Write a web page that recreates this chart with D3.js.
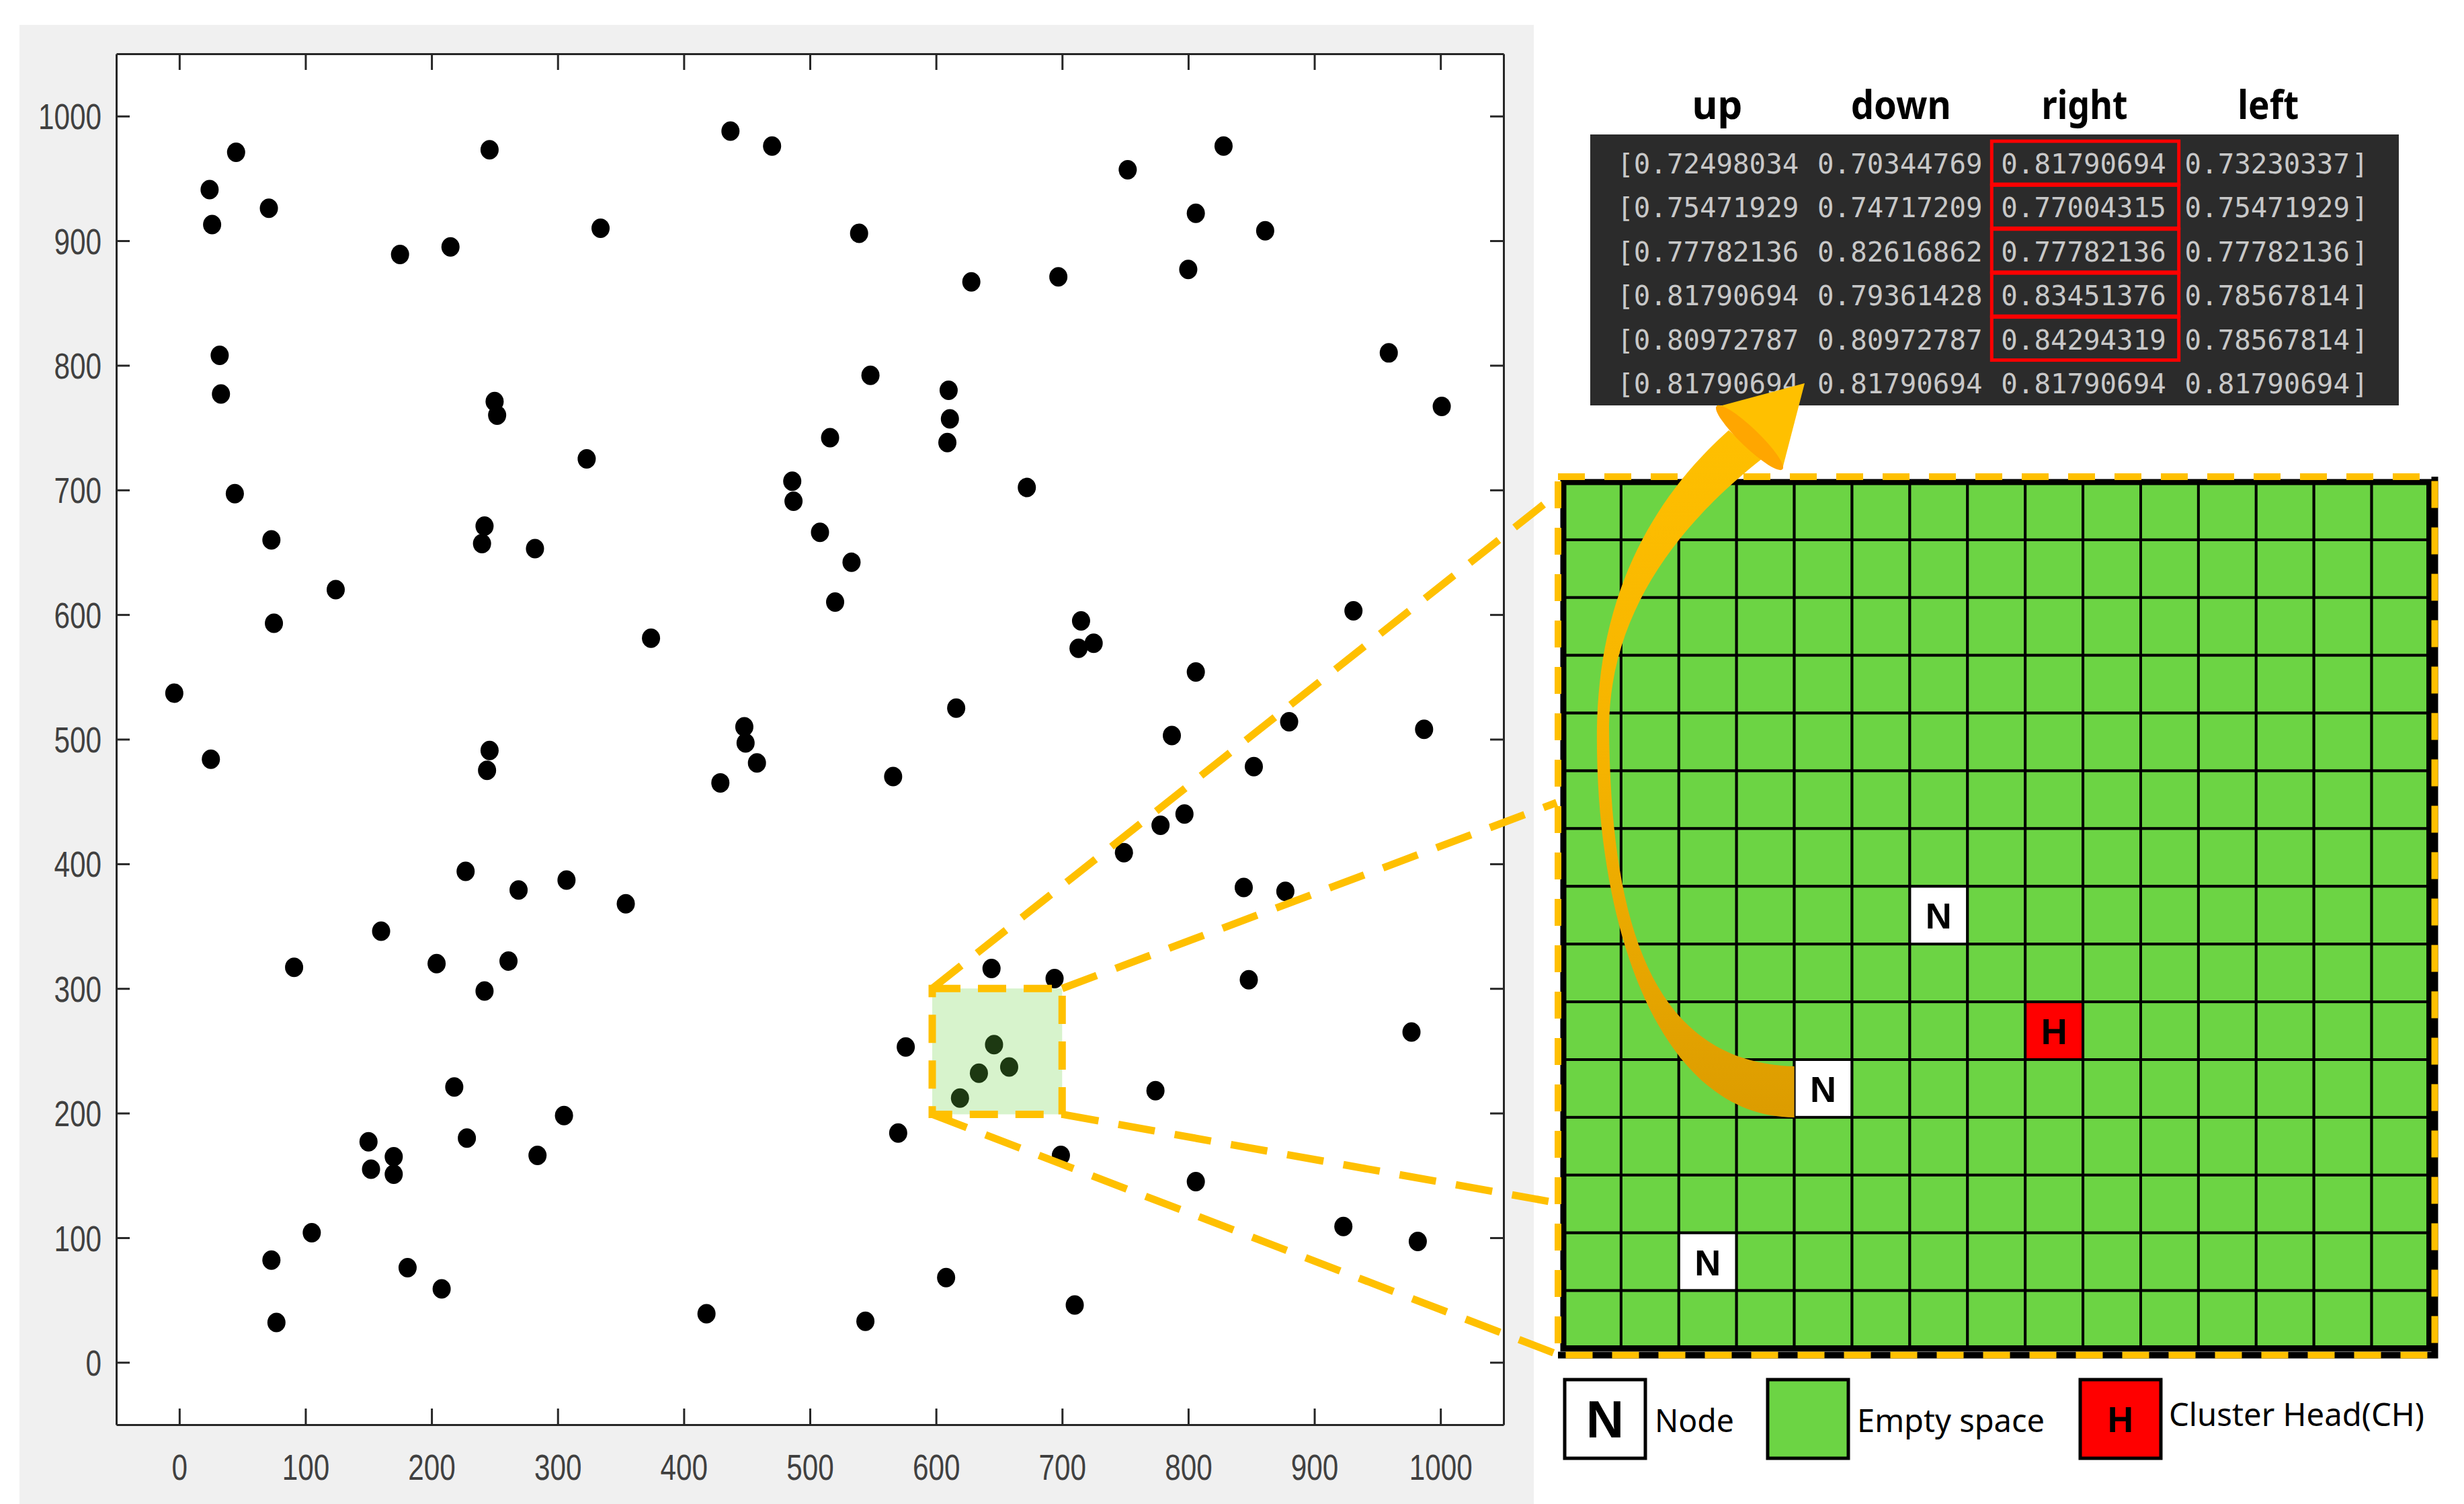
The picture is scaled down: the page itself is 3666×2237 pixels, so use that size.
<!DOCTYPE html>
<html>
<head>
<meta charset="utf-8">
<script src="https://cdn.jsdelivr.net/npm/d3@7"></script>
<style>
  html, body { margin: 0; padding: 0; background: #fff; }
  svg { display: block; }
</style>
</head>
<body>
<svg id="chart" width="3666" height="2237"></svg>
<script>
/* -------------------- 1. DATA --------------------------------------- */
// sensor node positions [x, y] in the 1000 x 1000 field
const nodes = [
  [-4,537],[24,941],[26,913],[45,971],[71,926],[32,808],[33,777],[44,697],[73,660],[75,593],
  [124,620],[175,889],[215,895],[246,973],[250,771],[252,760],[242,671],[240,657],[282,653],[323,725],
  [334,910],[374,581],[437,988],[470,976],[486,707],[487,691],
  [539,906],[548,792],[516,742],[508,666],[533,642],[520,610],[610,780],[611,757],[609,738],[628,867],
  [697,871],[672,702],[752,957],[828,976],[806,922],[861,908],[800,877],[959,810],[1001,767],[715,595],
  [713,573],[725,577],[806,554],[616,525],[931,603],[880,514],[987,508],[787,503],
  [25,484],[448,510],[449,497],[458,481],[429,465],[246,491],[244,475],[227,394],[269,379],[307,387],
  [354,368],[160,346],[91,317],[204,320],[261,322],[242,298],[218,221],[305,198],[228,180],[150,177],
  [170,165],[152,155],[170,151],[284,166],[105,104],[73,82],[77,32],[181,76],[208,59],[418,39],
  [566,470],[852,478],[778,431],[797,440],[749,409],[844,381],[877,378],[644,316],[694,308],[848,307],
  [977,265],[576,253],[646,255],[658,237],[634,232],[619,212],[774,218],[570,184],[699,166],[806,145],
  [923,109],[982,97],[608,68],[710,46],[544,33]
];
const axisDomain = [-50, 1050];
const axisTicks  = d3.range(0, 1001, 100);

// highlighted sub-area that is blown up into the grid
const zoomBoxX = [597, 700];
const zoomBoxY = [199, 300];

// Q-values table
const qHeaders = ["up", "down", "right", "left"];
const qRows = [
  ["0.72498034", "0.70344769", "0.81790694", "0.73230337"],
  ["0.75471929", "0.74717209", "0.77004315", "0.75471929"],
  ["0.77782136", "0.82616862", "0.77782136", "0.77782136"],
  ["0.81790694", "0.79361428", "0.83451376", "0.78567814"],
  ["0.80972787", "0.80972787", "0.84294319", "0.78567814"],
  ["0.81790694", "0.81790694", "0.81790694", "0.81790694"]
];
const bestCol  = 2;
const bestRows = [0, 1, 2, 3, 4];

// grid world: [col, row]
const gridN     = 15;
const nodeCells = [[6, 7], [4, 10], [2, 13]];
const headCells = [[8, 9]];

const legendKeys   = ["N", "", "H"];
const legendLabels = ["Node", "Empty space", "Cluster Head(CH)"];

/* -------------------- 2. STYLE / GEOMETRY --------------------------- */
const GREEN  = "#6cd444";
const ORANGE = "#ffc000";
const RED    = "#ff0000";
const AXISC  = "#262626";
const LABELC = "#404040";

const svg = d3.select("#chart");

/* -------------------- 3. SCATTER PANEL ------------------------------ */
svg.append("rect").attr("x", 29).attr("y", 37).attr("width", 2253).attr("height", 2200)
   .attr("fill", "#f0f0f0");

const x = d3.scaleLinear().domain(axisDomain).range([173, 2237]);
const y = d3.scaleLinear().domain(axisDomain).range([2119, 80]);

svg.append("rect")
   .attr("x", x(axisDomain[0])).attr("y", y(axisDomain[1]))
   .attr("width", x(axisDomain[1]) - x(axisDomain[0]))
   .attr("height", y(axisDomain[0]) - y(axisDomain[1]))
   .attr("fill", "#fff");

function styleAxis(g){
  g.select(".domain").attr("stroke", AXISC).attr("stroke-width", 3);
  g.selectAll(".tick line").attr("stroke", AXISC).attr("stroke-width", 3);
  g.selectAll(".tick text")
   .attr("fill", LABELC)
   .attr("font-family", "'Liberation Sans', Arial, sans-serif")
   .attr("font-size", 53)
   .attr("textLength", function(){ return this.textContent.length * 23.5; })
   .attr("lengthAdjust", "spacingAndGlyphs");
}

svg.append("g").attr("transform", `translate(0,${y(axisDomain[0])})`)
   .call(d3.axisBottom(x).tickValues(axisTicks).tickSizeInner(-24).tickSizeOuter(0).tickFormat(d3.format("d")))
   .call(styleAxis)
   .call(g => g.selectAll(".tick text").attr("y", 82).attr("dy", 0));

svg.append("g").attr("transform", `translate(0,${y(axisDomain[1])})`)
   .call(d3.axisTop(x).tickValues(axisTicks).tickSizeInner(-24).tickSizeOuter(0).tickFormat(""))
   .call(styleAxis);

svg.append("g").attr("transform", `translate(${x(axisDomain[0])},0)`)
   .call(d3.axisLeft(y).tickValues(axisTicks).tickSizeInner(-20).tickSizeOuter(0).tickFormat(d3.format("d")))
   .call(styleAxis)
   .call(g => g.selectAll(".tick text").attr("x", -22).attr("dy", "0.36em"));

svg.append("g").attr("transform", `translate(${x(axisDomain[1])},0)`)
   .call(d3.axisRight(y).tickValues(axisTicks).tickSizeInner(-20).tickSizeOuter(0).tickFormat(""))
   .call(styleAxis);

svg.append("g").selectAll("ellipse").data(nodes).join("ellipse")
   .attr("cx", d => x(d[0])).attr("cy", d => y(d[1])).attr("rx", 13.5).attr("ry", 14.5)
   .attr("fill", "#000");

// zoom box
const bx0 = x(zoomBoxX[0]), bx1 = x(zoomBoxX[1]);
const by0 = y(zoomBoxY[1]), by1 = y(zoomBoxY[0]);
svg.append("rect").attr("x", bx0).attr("y", by0).attr("width", bx1 - bx0).attr("height", by1 - by0)
   .attr("fill", GREEN).attr("fill-opacity", 0.27);

/* -------------------- 4. GRID WORLD --------------------------------- */
const GX = 2326, GY = 717, CELL = 85.9;
const GW = CELL * gridN;

// connector lines (box corners -> grid left edge)
const corners = [[bx0, by0], [bx1, by0], [bx1, by1], [bx0, by1]];
const targets = [[GX - 10, GY + 18], [GX - 10, GY + 0.37 * GW], [GX - 10, GY + 0.832 * GW], [GX - 6, GY + GW + 10]];
svg.append("g").selectAll("line").data(corners).join("line")
   .attr("x1", d => d[0]).attr("y1", d => d[1])
   .attr("x2", (d, i) => targets[i][0]).attr("y2", (d, i) => targets[i][1])
   .attr("stroke", ORANGE).attr("stroke-width", 11).attr("stroke-dasharray", "55,30");

svg.append("rect").attr("x", bx0).attr("y", by0).attr("width", bx1 - bx0).attr("height", by1 - by0)
   .attr("fill", "none").attr("stroke", ORANGE).attr("stroke-width", 11).attr("stroke-dasharray", "42,26");

const cells = [];
d3.range(gridN).forEach(r => d3.range(gridN).forEach(c => cells.push([c, r])));
const isCell = (list, d) => list.some(p => p[0] === d[0] && p[1] === d[1]);

const gGrid = svg.append("g");
gGrid.selectAll("rect").data(cells).join("rect")
   .attr("x", d => GX + d[0] * CELL).attr("y", d => GY + d[1] * CELL)
   .attr("width", CELL).attr("height", CELL)
   .attr("fill", d => isCell(nodeCells, d) ? "#fff" : isCell(headCells, d) ? RED : GREEN)
   .attr("stroke", "#000").attr("stroke-width", 4);

gGrid.selectAll("text").data(nodeCells.map(d => [...d, "N"]).concat(headCells.map(d => [...d, "H"]))).join("text")
   .attr("x", d => GX + (d[0] + 0.5) * CELL).attr("y", d => GY + (d[1] + 0.5) * CELL + 20)
   .attr("text-anchor", "middle")
   .attr("font-family", "'Liberation Sans', Arial, sans-serif").attr("font-weight", "bold")
   .attr("font-size", 54).attr("fill", "#000")
   .text(d => d[2]);

// borders
svg.append("rect").attr("x", GX).attr("y", GY).attr("width", GW).attr("height", GW)
   .attr("fill", "none").attr("stroke", "#000").attr("stroke-width", 9);
const ox0 = GX - 8, oy0 = GY - 8, ox1 = GX + GW + 8, oy1 = GY + GW + 10;
svg.append("path").attr("d", `M${ox0},${oy1}H${ox1}V${oy0}`)
   .attr("fill", "none").attr("stroke", "#000").attr("stroke-width", 10);
svg.append("rect").attr("x", ox0).attr("y", oy0).attr("width", ox1 - ox0).attr("height", oy1 - oy0)
   .attr("fill", "none").attr("stroke", ORANGE).attr("stroke-width", 10).attr("stroke-dasharray", "40,29");

/* -------------------- 5. Q TABLE ------------------------------------ */
const TX = 2366, TY = 200, TW = 1203, TH = 403;
const charW = 24.84, textX0 = 2406, rowY0 = 243, rowStep = 65.4;
svg.append("rect").attr("x", TX).attr("y", TY).attr("width", TW).attr("height", TH).attr("fill", "#2b2b2b");

const colStart = k => textX0 + (1 + 11 * k) * charW;
const headW = [75, 149, 128, 91];

svg.append("g").selectAll("text").data(qHeaders).join("text")
   .attr("x", (d, k) => colStart(k) + 5 * charW - headW[k] / 2).attr("y", 177)
   .attr("font-family", "'Noto Sans', sans-serif").attr("font-weight", "bold")
   .attr("font-size", 60).attr("fill", "#000")
   .attr("textLength", (d, k) => headW[k]).attr("lengthAdjust", "spacingAndGlyphs")
   .text(d => d);

const mono = "'DejaVu Sans Mono', 'Liberation Mono', monospace";
const gRows = svg.append("g").attr("font-family", mono).attr("font-size", 41).attr("fill", "#c8c8c8");
qRows.forEach((row, i) => {
  const yy = rowY0 + i * rowStep + 15;
  gRows.append("text").attr("x", textX0).attr("y", yy).text("[");
  gRows.append("text").attr("x", textX0 + 44 * charW).attr("y", yy).text("]");
  row.forEach((v, k) => {
    gRows.append("text").attr("x", colStart(k)).attr("y", yy)
      .attr("textLength", 10 * charW - 3).attr("lengthAdjust", "spacingAndGlyphs")
      .text(v);
  });
});

svg.append("g").selectAll("rect").data(bestRows).join("rect")
   .attr("x", colStart(bestCol) - 14).attr("y", i => rowY0 + i * rowStep - 33)
   .attr("width", 10 * charW + 30).attr("height", 64)
   .attr("fill", "none").attr("stroke", RED).attr("stroke-width", 5);

/* -------------------- 6. ARROW -------------------------------------- */
const defs = svg.append("defs");
const grad = defs.append("linearGradient").attr("id", "arrowGrad")
   .attr("gradientUnits", "userSpaceOnUse").attr("x1", 0).attr("y1", 620).attr("x2", 0).attr("y2", 1662);
grad.append("stop").attr("offset", 0).attr("stop-color", "#ffc000");
grad.append("stop").attr("offset", 0.5).attr("stop-color", "#f5b300");
grad.append("stop").attr("offset", 1).attr("stop-color", "#dc9c00");

const nEnd = GX + nodeCells[1][0] * CELL;
svg.append("path")
   .attr("d", `M${nEnd},1662 C2470,1662 2372,1380 2376,1080 C2380,880 2460,740 2572,640
               L2622,682 C2510,770 2396,900 2394,1080 C2396,1400 2470,1580 ${nEnd},1586 Z`)
   .attr("fill", "url(#arrowGrad)");
svg.append("polygon").attr("points", "2555,605 2685,570 2652,697").attr("fill", "#ffc000");
svg.append("ellipse").attr("cx", 2603).attr("cy", 651).attr("rx", 68).attr("ry", 14)
   .attr("transform", "rotate(43.8 2603 651)").attr("fill", "#ffa600");

/* -------------------- 7. LEGEND ------------------------------------- */
const legX = [2328, 2630, 3095], labX = [2462, 2763, 3227], labY = [2130, 2130, 2121];
const labW = [118, 279, 380];
const legFill = ["#fff", GREEN, RED];
const gLeg = svg.append("g");
legendKeys.forEach((k, i) => {
  gLeg.append("rect").attr("x", legX[i]).attr("y", 2052).attr("width", 120).attr("height", 117)
     .attr("fill", legFill[i]).attr("stroke", "#000").attr("stroke-width", 5);
  if (k) gLeg.append("text").attr("x", legX[i] + 60).attr("y", i === 0 ? 2138 : 2130)
     .attr("text-anchor", "middle")
     .attr("font-family", "'Liberation Sans', Arial, sans-serif").attr("font-weight", "bold")
     .attr("font-size", i === 0 ? 78 : 53).attr("fill", "#000").text(k);
  gLeg.append("text").attr("x", labX[i]).attr("y", labY[i])
     .attr("font-family", "'Noto Sans', sans-serif").attr("font-size", 48).attr("fill", "#000")
     .attr("textLength", labW[i]).attr("lengthAdjust", "spacingAndGlyphs")
     .text(legendLabels[i]);
});
</script>
</body>
</html>
